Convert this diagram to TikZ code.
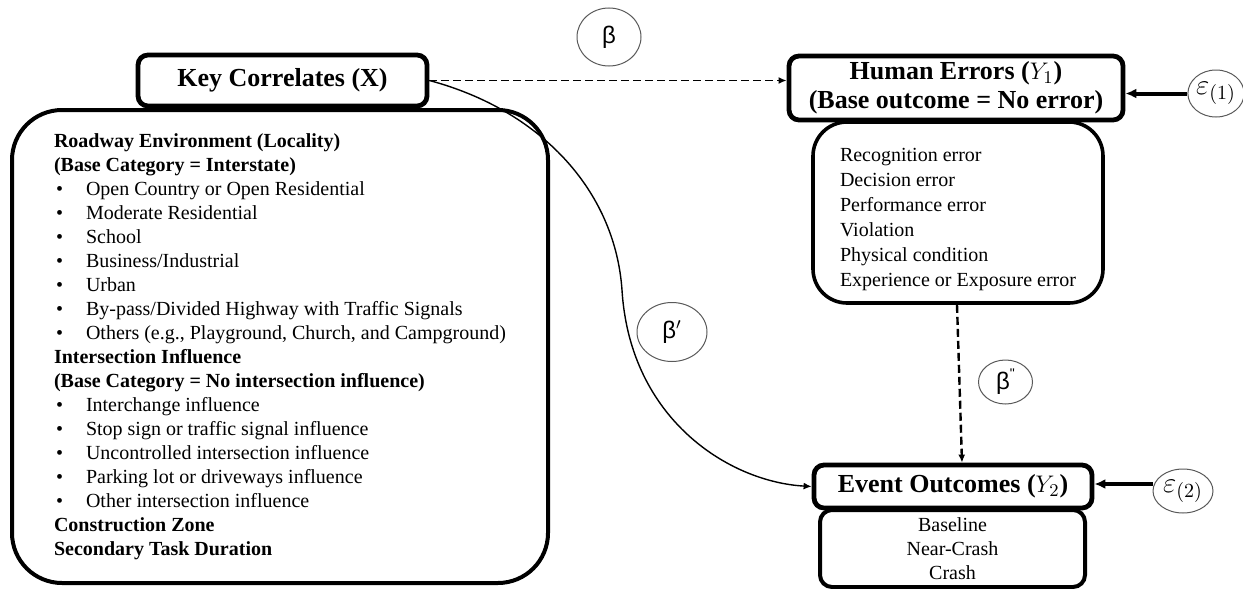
\documentclass[tikz,border=0pt]{standalone}
\usepackage{fontspec}
\setmainfont{Liberation Serif}
\newfontfamily\greekfont{Liberation Sans}
\usetikzlibrary{shapes.geometric,arrows.meta}

\newcommand{\itm}[1]{\makebox[16pt][l]{\hspace{1pt}•}#1}

\begin{document}
\begin{tikzpicture}[x=0.5pt,y=-0.5pt,
		hdr/.style={rectangle,draw,line width=2.4pt,rounded corners=5pt,fill=white,inner sep=0pt,align=center,font=\fontsize{13}{14.5}\selectfont\bfseries},
		lst/.style={rectangle,draw,line width=1.8pt,fill=white,inner sep=0pt,font=\fontsize{10}{12}\selectfont},
		coef/.style={ellipse,draw=black!65,line width=0.5pt,inner sep=0pt,font=\fontsize{12}{12}\selectfont\greekfont},
		err/.style={ellipse,draw=black!65,line width=0.5pt,inner sep=0pt,font=\fontsize{14}{14}\selectfont}]
		\useasboundingbox (0,0) rectangle (1243,589);

		\node at (280,  346.5) [lst,rounded corners=25pt,line width=2pt,minimum width=268pt,minimum height=236.5pt,align=left] (correlate_list) {%
			\textbf{Roadway Environment (Locality)}\\
			\textbf{(Base Category = Interstate)}\\
			\itm{Open Country or Open Residential}\\
			\itm{Moderate Residential}\\
			\itm{School}\\
			\itm{Business/Industrial}\\
			\itm{Urban}\\
			\itm{By-pass/Divided Highway with Traffic Signals}\\
			\itm{Others (e.g., Playground, Church, and Campground)}\\
			\textbf{Intersection Influence}\\
			\textbf{(Base Category = No intersection influence)}\\
			\itm{Interchange influence}\\
			\itm{Stop sign or traffic signal influence}\\
			\itm{Uncontrolled intersection influence}\\
			\itm{Parking lot or driveways influence}\\
			\itm{Other intersection influence}\\
			\textbf{Construction Zone}\\
			\textbf{Secondary Task Duration}};
		\node at (282.5, 80.5) [hdr,minimum width=144.5pt,minimum height=25.5pt] (key_correlates) {Key Correlates (X)};

		\node at (958, 212.5) [lst,rounded corners=17pt,minimum width=145pt,minimum height=90.5pt,align=left] (error_list) {%
			\rule{0pt}{13.5pt}Recognition error\\[0.5pt]
			Decision error\\[0.5pt]
			Performance error\\[0.5pt]
			Violation\\[0.5pt]
			Physical condition\\[0.5pt]
			Experience or Exposure error};
		\node at (956,    88) [hdr,minimum width=167pt,minimum height=32pt] (human_errors) {Human Errors ($Y_1$)\\(Base outcome = No error)};

		\node at (952.5, 548.5) [lst,rounded corners=6pt,line width=2pt,minimum width=132.5pt,minimum height=38.5pt,align=center] (outcome_list) {Baseline\\Near-Crash\\Crash};
		\node at (953, 486.5) [hdr,minimum width=139pt,minimum height=21.5pt] (event_outcomes) {Event Outcomes ($Y_2$)};

		\node at (609,     37) [coef,minimum width=32pt,minimum height=29pt]   (beta)    {β};
		\node at (672,    332) [coef,minimum width=35pt,minimum height=29.5pt] (beta_p)  {β$'$};
		\node at (1005.5, 382) [coef,minimum width=27pt,minimum height=22pt]   (beta_pp) {β\raisebox{0.45em}{\fontsize{7}{7}\selectfont"}};
		\node at (1216,  93.5) [err,minimum width=26.5pt,minimum height=23.5pt] (eps_1) {$\varepsilon_{(1)}$};
		\node at (1183,   491) [err,minimum width=30pt,minimum height=22pt]     (eps_2) {$\varepsilon_{(2)}$};
		\coordinate (bend) at (622,290);

		\draw[-{Latex[length=4pt,width=3.5pt]},line width=0.9pt,dash pattern=on 4pt off 2pt] (key_correlates.east) -- (key_correlates.east -| human_errors.west);
		\draw[-{Latex[length=4pt,width=3.5pt]},line width=1.2pt,dash pattern=on 4pt off 2pt] ([xshift=-0.5pt]error_list.south) -- ([xshift=4.5pt]event_outcomes.north);
		\draw[-{Latex[length=4pt,width=3.5pt]},line width=0.7pt] (key_correlates.east) .. controls (540,110) and (615,190) .. (bend)
			.. controls (630,420) and (730,482) .. (event_outcomes.west);
		\draw[-{Latex[length=5.5pt,width=5pt]},line width=2pt] (eps_1) -- (eps_1 -| human_errors.east);
		\draw[-{Latex[length=5.5pt,width=5pt]},line width=2pt] (eps_2.west |- 0,484) -- (event_outcomes.east |- 0,484);
	\end{tikzpicture}
\end{document}
